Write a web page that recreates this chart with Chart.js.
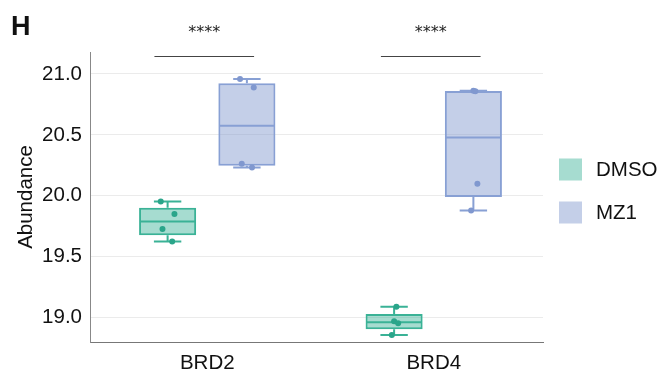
<!DOCTYPE html>
<html><head><meta charset="utf-8">
<script src="https://cdn.jsdelivr.net/npm/chart.js@4/dist/chart.umd.min.js"></script>
<style>html,body{margin:0;padding:0;background:#fff}#wrap{width:670px;height:375px;position:relative}</style>
</head><body><div id="wrap"><canvas id="c"></canvas></div>
<script>
// ---- data ----
const categories = ['BRD2', 'BRD4'];
const seriesNames = ['DMSO', 'MZ1'];
const dmsoBRD2 = [19.953, 19.850, 19.727, 19.625];
const dmsoBRD4 = [19.090, 18.970, 18.953, 18.858];
const mz1BRD2 = [20.959, 20.888, 20.262, 20.232];
const mz1BRD4 = [20.862, 20.858, 20.098, 19.880];
const yTickValues = [19.0, 19.5, 20.0, 20.5, 21.0];
const yTickLabels = ['19.0', '19.5', '20.0', '20.5', '21.0'];
const significance = ['****', '****'];
const panelLabel = 'H';
const yTitle = 'Abundance';

// ---- styles ----
const FONT = "'Liberation Sans', Arial, sans-serif";
const FS = 20.5;
const edgeColors = ['rgb(58,178,150)', 'rgb(136,160,212)'];
const fillColors = ['rgba(58,178,150,0.45)', 'rgba(124,148,204,0.45)'];
const dotColors = ['rgb(42,165,138)', 'rgb(128,152,207)'];
const legendFills = ['rgb(166,220,208)', 'rgb(196,207,232)'];
// horizontal jitter of the dots, as a fraction of box width (per series, per category)
const jitterFrac = [
  [[-0.12, 0.12, -0.09, 0.08], [0.04, 0.0, 0.07, -0.04]],
  [[-0.12, 0.12, -0.09, 0.09], [0.0, 0.035, 0.07, -0.04]]
];

function fivenum(arr) {
  const s = [...arr].sort((a, b) => a - b);
  const med = a => { const m = a.length; return m % 2 ? a[(m - 1) / 2] : (a[m / 2 - 1] + a[m / 2]) / 2; };
  const n = s.length, h = Math.floor(n / 2);
  const lower = s.slice(0, n % 2 ? h + 1 : h);
  const upper = s.slice(h);
  return { min: s[0], q1: med(lower), med: med(s), q3: med(upper), max: s[n - 1] };
}

const groups = [[dmsoBRD2, dmsoBRD4], [mz1BRD2, mz1BRD4]];

const datasets = seriesNames.map((name, i) => {
  const stats = groups[i].map(fivenum);
  return {
    label: name,
    data: stats.map(s => [s.q1, s.q3]),
    stats: stats,
    raw: groups[i],
    backgroundColor: fillColors[i],
    borderColor: edgeColors[i],
    borderWidth: 2,
    borderSkipped: false,
    categoryPercentage: 0.7,
    barPercentage: 0.72
  };
});

const boxExtras = {
  id: 'boxExtras',
  afterLayout(chart) {
    // the category axis sits slightly right of the y-axis line, as in the figure
    const s = chart.scales.x;
    s._startPixel += 4; s._endPixel += 4;
  },
  afterDatasetsDraw(chart) {
    const ctx = chart.ctx, y = chart.scales.y;
    chart.data.datasets.forEach((ds, i) => {
      const meta = chart.getDatasetMeta(i);
      meta.data.forEach((bar, j) => {
        const s = ds.stats[j];
        const x = bar.x, w = bar.width;
        const l = x - w / 2 + 1, r = x + w / 2 - 1;
        ctx.save();
        ctx.strokeStyle = ds.borderColor;
        ctx.lineWidth = 2;
        ctx.beginPath();
        ctx.moveTo(l, y.getPixelForValue(s.med)); ctx.lineTo(r, y.getPixelForValue(s.med));
        ctx.moveTo(x, y.getPixelForValue(s.q3)); ctx.lineTo(x, y.getPixelForValue(s.max));
        ctx.moveTo(x, y.getPixelForValue(s.q1)); ctx.lineTo(x, y.getPixelForValue(s.min));
        const cw = w * 0.24;
        ctx.moveTo(x - cw, y.getPixelForValue(s.max)); ctx.lineTo(x + cw, y.getPixelForValue(s.max));
        ctx.moveTo(x - cw, y.getPixelForValue(s.min)); ctx.lineTo(x + cw, y.getPixelForValue(s.min));
        ctx.stroke();
        ctx.fillStyle = dotColors[i];
        ds.raw[j].forEach((v, k) => {
          ctx.beginPath();
          ctx.arc(x + jitterFrac[i][j][k] * w, y.getPixelForValue(v), 3, 0, Math.PI * 2);
          ctx.fill();
        });
        ctx.restore();
      });
    });
  },
  afterDraw(chart) {
    const ctx = chart.ctx, xs = chart.scales.x, y = chart.scales.y, ca = chart.chartArea;
    ctx.save();
    ctx.fillStyle = '#111';
    ctx.font = 'bold 27px ' + FONT;
    ctx.textBaseline = 'alphabetic';
    ctx.textAlign = 'left';
    ctx.fillText(panelLabel, 11, 35);
    const catW = xs.width / categories.length;
    categories.forEach((c, j) => {
      const cx = xs.getPixelForValue(j) - 3;
      const ly = Math.round(y.getPixelForValue(21.15)) + 0.5;
      ctx.strokeStyle = '#444';
      ctx.lineWidth = 1.2;
      ctx.beginPath();
      ctx.moveTo(cx - catW * 0.22, ly); ctx.lineTo(cx + catW * 0.22, ly);
      ctx.stroke();
      ctx.fillStyle = '#222';
      ctx.font = "16px 'DejaVu Sans', sans-serif";
      ctx.textAlign = 'center';
      ctx.fillText(significance[j], cx, ly - 20);
    });
    const lx = ca.right + 16;
    const cy = (ca.top + ca.bottom) / 2 - 6;
    seriesNames.forEach((n, i) => {
      const iy = cy + (i - 0.5) * 43;
      ctx.fillStyle = legendFills[i];
      ctx.fillRect(lx, iy - 11, 23, 22);
      ctx.fillStyle = '#111';
      ctx.font = FS + 'px ' + FONT;
      ctx.textAlign = 'left';
      ctx.textBaseline = 'middle';
      ctx.fillText(n, lx + 37, iy + 1);
    });
    ctx.restore();
  }
};

new Chart(document.getElementById('c'), {
  type: 'bar',
  data: { labels: categories, datasets: datasets },
  options: {
    responsive: true,
    maintainAspectRatio: false,
    animation: false,
    layout: { padding: { top: 52, right: 127, left: 0, bottom: 0 } },
    plugins: { legend: { display: false }, tooltip: { enabled: false } },
    scales: {
      x: {
        grid: { display: false, drawTicks: false },
        border: { display: true, color: '#777', width: 1 },
        ticks: { color: '#111', font: { family: FONT, size: FS }, padding: 9 },
        afterFit(s) { s.height = 33; }
      },
      y: {
        min: 18.8,
        max: 21.18,
        afterBuildTicks(s) { s.ticks = yTickValues.map(v => ({ value: v })); },
        grid: { color: '#ebebeb', lineWidth: 1, drawTicks: false },
        border: { display: true, color: '#888', width: 1 },
        ticks: {
          color: '#111', font: { family: FONT, size: FS }, padding: 8,
          callback(v) { const k = yTickValues.findIndex(t => Math.abs(t - v) < 1e-9); return k >= 0 ? yTickLabels[k] : ''; }
        },
        title: { display: true, text: yTitle, color: '#111', font: { family: FONT, size: FS }, padding: { top: 14, bottom: 0 } },
        afterFit(s) { s.width = 90; }
      }
    }
  },
  plugins: [boxExtras]
});
</script>
</body></html>
